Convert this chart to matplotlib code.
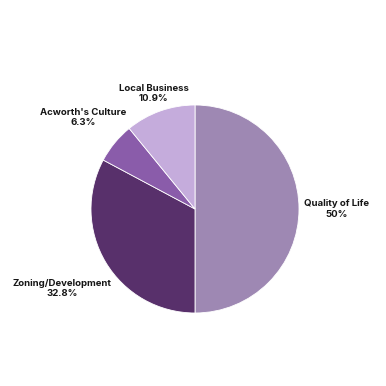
import numpy as np
import matplotlib
matplotlib.use("Agg")
import matplotlib.pyplot as plt

# survey topics, clockwise from the top
labels = ["Quality of Life", "Zoning/Development", "Acworth's Culture", "Local Business"]
shares = [50, 32.8, 6.3, 10.9]
pct_text = ["50%", "32.8%", "6.3%", "10.9%"]
colors = ["#9e88b3", "#58306b", "#8a5caa", "#c5acdc"]
label_dist = [1.36, 1.49, 1.39, 1.18]

plt.rcParams["font.family"] = ["Inter", "DejaVu Sans"]

fig = plt.figure(figsize=(3.86, 3.86), dpi=100)
ax = fig.add_axes([0, 0, 1, 1])

R = 104.0  # pie radius in pixels
cx, cy = 195.0, 386 - 209.0

wedges, _ = ax.pie(shares, colors=colors, startangle=90, counterclock=False,
                   radius=1, wedgeprops=dict(edgecolor="white", linewidth=0.6))

for w, lab, pct, d in zip(wedges, labels, pct_text, label_dist):
    mid = np.deg2rad((w.theta1 + w.theta2) / 2)
    x, y = d * np.cos(mid), d * np.sin(mid)
    ax.text(x, y, lab + "\n" + pct, ha="center", va="center", fontsize=6.9,
            fontweight="bold", color="#161616", linespacing=1.2)

ax.set_xlim(-cx / R, (386 - cx) / R)
ax.set_ylim(-cy / R, (386 - cy) / R)
ax.set_aspect("equal")
ax.axis("off")

fig.savefig("out.png", dpi=100, facecolor="white")
